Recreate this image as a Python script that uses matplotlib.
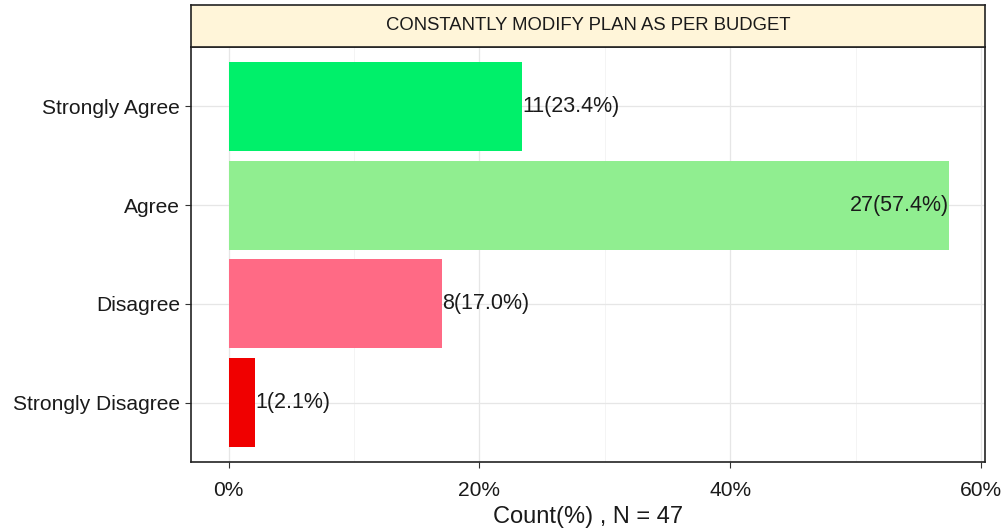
import matplotlib.pyplot as plt
from matplotlib.ticker import MultipleLocator

plt.rcParams['font.family'] = ['Liberation Sans', 'DejaVu Sans']

categories = ["Strongly Disagree", "Disagree", "Agree", "Strongly Agree"]
counts = [1, 8, 27, 11]
colors = ["#F00000", "#FF6A85", "#90EE90", "#00F06A"]
total = sum(counts)
percents = [c / total * 100 for c in counts]
title = "CONSTANTLY MODIFY PLAN AS PER BUDGET"

fig = plt.figure(figsize=(10.02, 5.31), dpi=100)
ax = fig.add_axes([191 / 1002, 69 / 531, 794 / 1002, 415 / 531])

ypos = list(range(1, len(categories) + 1))
ax.barh(ypos, percents, height=0.9, color=colors, zorder=2)

biggest = max(percents)
for y, c, p in zip(ypos, counts, percents):
    ha = 'right' if p == biggest else 'left'
    ax.text(p, y, f"{c}({p:.1f}%)", ha=ha, va='center', fontsize=15.5,
            color='#1a1a1a', zorder=3)

ax.set_xlim(-3.0, 60.3)
ax.set_ylim(0.4, 4.6)
ax.set_yticks(ypos)
ax.set_yticklabels(categories, fontsize=15.1, color='#1a1a1a')
ax.set_xticks([0, 20, 40, 60])
ax.set_xticklabels(["0%", "20%", "40%", "60%"], fontsize=15.1, color='#1a1a1a')
ax.xaxis.set_minor_locator(MultipleLocator(10))
ax.grid(True, which='major', color='#e6e6e6', lw=0.9, zorder=0)
ax.grid(True, which='minor', axis='x', color='#f2f2f2', lw=0.6, zorder=0)
ax.tick_params(axis='both', length=4, width=0.8, color='#333333')
ax.tick_params(axis='x', which='minor', length=0)
ax.tick_params(axis='y', pad=4)
ax.tick_params(axis='x', pad=10)
for s in ax.spines.values():
    s.set_color('#222222')
    s.set_linewidth(1.2)

ax.set_xlabel("Count(%) , N = 47", fontsize=17, color='#1a1a1a', labelpad=4)

# facet strip
strip = fig.add_axes([191 / 1002, 484 / 531, 794 / 1002, 42 / 531])
strip.set_facecolor('#FFF5D9')
strip.set_xticks([])
strip.set_yticks([])
for s in strip.spines.values():
    s.set_color('#222222')
    s.set_linewidth(1.2)
strip.text(0.5, 0.5, title, ha='center', va='center', fontsize=13.3,
           color='#1a1a1a', transform=strip.transAxes)

fig.savefig("out.png", dpi=100)
